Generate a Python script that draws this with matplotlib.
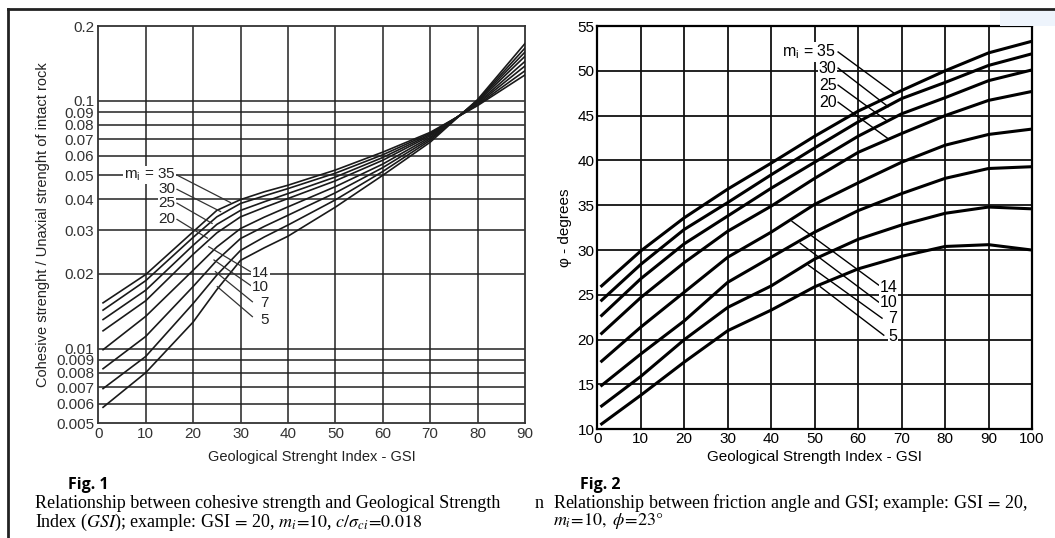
import matplotlib.pyplot as plt
from matplotlib.lines import Line2D
from matplotlib.patches import Rectangle

plt.rcParams['font.family'] = ['Liberation Sans', 'DejaVu Sans']
plt.rcParams['mathtext.fontset'] = 'stix'

# ---- Fig. 1 : cohesive strength / UCS vs GSI (log scale) ----
gsi_c = [1, 10, 20, 25, 30, 35, 40, 50, 60, 70, 80, 90]
coh_35 = [.0153, .0199, .0296, .0361, .0399, .0429, .0456, .0525, .0620, .0745, .0955, .127]
coh_30 = [.0143, .0188, .0281, .0340, .0385, .0413, .0442, .0510, .0605, .0738, .0962, .132]
coh_25 = [.0131, .0172, .0261, .0317, .0361, .0391, .0422, .0492, .0590, .0730, .0970, .138]
coh_20 = [.0118, .0156, .0240, .0293, .0340, .0371, .0403, .0475, .0575, .0722, .0978, .144]
coh_14 = [.0099, .0135, .0207, .0257, .0305, .0339, .0373, .0450, .0555, .0712, .0988, .151]
coh_10 = [.0083, .0112, .0178, .0227, .0278, .0311, .0345, .0425, .0537, .0702, .0996, .157]
coh_7 = [.0069, .0093, .0152, .0198, .0249, .0282, .0315, .0398, .0518, .0692, .1003, .163]
coh_5 = [.0058, .0080, .0128, .0173, .0227, .0255, .0284, .0372, .0500, .0680, .1010, .170]
coh_curves = [coh_35, coh_30, coh_25, coh_20, coh_14, coh_10, coh_7, coh_5]

coh_yticks = [0.2, 0.1, 0.09, 0.08, 0.07, 0.06, 0.05, 0.04, 0.03, 0.02,
              0.01, 0.009, 0.008, 0.007, 0.006, 0.005]
coh_ylabels = ['0.2', '0.1', '0.09', '0.08', '0.07', '0.06', '0.05', '0.04', '0.03',
               '0.02', '0.01', '0.009', '0.008', '0.007', '0.006', '0.005']

# curve labels: text, text position, leader line (x0, y0, x1, y1)
coh_lab_top = ['m$_\\mathregular{i}$ = 35', '30', '25', '20']
coh_lab_top_y = [0.0501, 0.0439, 0.0386, 0.0332]
coh_lead_top = [(16.6, 0.0501, 27.9, 0.0388), (16.6, 0.0439, 25.8, 0.0357),
                (16.6, 0.0386, 24.0, 0.0320), (16.6, 0.0332, 23.0, 0.0279)]
coh_lab_bot = ['14', '10', '7', '5']
coh_lab_bot_y = [0.0201, 0.01768, 0.01532, 0.01305]
coh_lead_bot = [(23.3, 0.02576, 32.1, 0.02044), (24.4, 0.02278, 32.5, 0.01778),
                (24.7, 0.02044, 32.5, 0.01546), (25.1, 0.01778, 32.5, 0.01346)]

# ---- Fig. 2 : friction angle vs GSI ----
gsi_f = [1, 10, 20, 30, 40, 50, 60, 70, 80, 90, 100]
phi_35 = [26.0, 29.9, 33.6, 36.8, 39.7, 42.7, 45.5, 47.8, 50.0, 52.0, 53.3]
phi_30 = [24.4, 28.4, 32.3, 35.3, 38.4, 41.4, 44.3, 46.9, 48.7, 50.6, 51.9]
phi_25 = [22.7, 26.8, 30.7, 33.8, 36.9, 39.8, 42.7, 45.2, 47.0, 48.9, 50.1]
phi_20 = [20.7, 24.7, 28.6, 32.1, 34.9, 38.0, 40.9, 43.0, 45.0, 46.7, 47.7]
phi_14 = [17.6, 21.4, 25.3, 29.2, 32.0, 35.1, 37.5, 39.8, 41.7, 42.9, 43.5]
phi_10 = [14.9, 18.4, 22.1, 26.4, 29.2, 32.0, 34.4, 36.3, 38.0, 39.1, 39.3]
phi_7 = [12.6, 15.9, 20.0, 23.6, 26.0, 29.0, 31.2, 32.8, 34.1, 34.8, 34.6]
phi_5 = [10.6, 13.8, 17.5, 21.0, 23.3, 25.9, 27.9, 29.3, 30.4, 30.6, 30.0]
phi_curves = [phi_35, phi_30, phi_25, phi_20, phi_14, phi_10, phi_7, phi_5]

phi_lab_top = ['m$_\\mathregular{i}$ = 35', '30', '25', '20']
phi_lab_top_y = [52.1, 50.3, 48.4, 46.5]
phi_lead_top = [(55.4, 52.1, 68.3, 47.5), (55.4, 50.3, 66.9, 46.0),
                (55.4, 48.4, 66.7, 44.4), (55.4, 46.5, 66.7, 42.5)]
phi_lab_bot = ['14', '10', '7', '5']
phi_lab_bot_y = [25.8, 24.1, 22.4, 20.4]
phi_lead_bot = [(44.8, 33.2, 64.7, 26.1), (46.7, 30.75, 64.7, 24.2),
                (48.6, 28.3, 65.5, 22.4), (51.3, 25.9, 65.9, 20.5)]

W, H = 1055, 538
fig = plt.figure(figsize=(W / 100, H / 100), dpi=100)
box = dict(facecolor='white', edgecolor='none', pad=0.5)
serif = ['Liberation Serif', 'DejaVu Serif']

# ---------------- left chart ----------------
ax1 = fig.add_axes([98.3 / W, 1 - 423.3 / H, 426.7 / W, 397.3 / H])
ax1.set_yscale('log')
ax1.set_xlim(0, 90)
ax1.set_ylim(0.005, 0.2)
ax1.set_xticks(range(0, 91, 10))
ax1.set_yticks(coh_yticks)
ax1.set_yticklabels(coh_ylabels)
ax1.minorticks_off()
ax1.tick_params(length=0, labelsize=11, colors='#333333', pad=3)
for v in range(10, 90, 10):
    ax1.axvline(v, color='#222222', lw=1.1, zorder=1)
for v in coh_yticks[1:-1]:
    ax1.axhline(v, color='#222222', lw=1.1, zorder=1)
for c in coh_curves:
    ax1.plot(gsi_c, c, color='#1a1a1a', lw=1.2, zorder=3)
for s in ax1.spines.values():
    s.set_linewidth(1.3)
    s.set_color('#333333')

for t, y in zip(coh_lab_top, coh_lab_top_y):
    ax1.text(16.3, y, t, ha='right', va='center', fontsize=11, color='#222222',
             bbox=box, zorder=5)
for x0, y0, x1, y1 in coh_lead_top:
    ax1.plot([x0, x1], [y0, y1], color='#333333', lw=0.9, zorder=4)
for t, y in zip(coh_lab_bot, coh_lab_bot_y):
    ax1.text(36.0, y, t, ha='right', va='center', fontsize=11, color='#222222',
             bbox=box, zorder=5)
for x0, y0, x1, y1 in coh_lead_bot:
    ax1.plot([x0, x1], [y0, y1], color='#333333', lw=0.9, zorder=4)

ax1.set_xlabel('Geological Strenght Index - GSI', fontsize=10.5, color='#222222', labelpad=6)
ax1.set_ylabel('Cohesive strenght / Unaxial strenght of intact rock', fontsize=10.5,
               color='#222222', labelpad=4)

# ---------------- right chart ----------------
ax2 = fig.add_axes([597.3 / W, 1 - 429.3 / H, 434.7 / W, 403.3 / H])
ax2.set_xlim(0, 100)
ax2.set_ylim(10, 55)
ax2.set_xticks(range(0, 101, 10))
ax2.set_yticks(range(10, 56, 5))
ax2.tick_params(length=0, labelsize=11, colors='black', pad=2)
ax2.grid(True, color='#111111', lw=1.3, zorder=1)
ax2.set_axisbelow(True)
for c in phi_curves:
    ax2.plot(gsi_f, c, color='black', lw=2.2, zorder=3)
for s in ax2.spines.values():
    s.set_linewidth(1.6)

for t, y in zip(phi_lab_top, phi_lab_top_y):
    ax2.text(55.0, y, t, ha='right', va='center', fontsize=11.5, bbox=box, zorder=5)
for x0, y0, x1, y1 in phi_lead_top:
    ax2.plot([x0, x1], [y0, y1], color='black', lw=1.0, zorder=4)
for t, y in zip(phi_lab_bot, phi_lab_bot_y):
    ax2.text(69.0, y, t, ha='right', va='center', fontsize=11.5, bbox=box, zorder=5)
for x0, y0, x1, y1 in phi_lead_bot:
    ax2.plot([x0, x1], [y0, y1], color='black', lw=1.0, zorder=4)

ax2.set_xlabel('Geological Strength Index - GSI', fontsize=11, labelpad=3)
ax2.set_ylabel('φ - degrees', fontsize=11, labelpad=4)

# ---------------- page frame & captions ----------------
fig.add_artist(Line2D([8 / W, 1], [1 - 9 / H, 1 - 9 / H], color='#222222', lw=2))
fig.add_artist(Line2D([8 / W, 8 / W], [0, 1 - 9 / H], color='#222222', lw=2))
fig.add_artist(Rectangle((1000 / W, 1 - 26 / H), 55 / W, 15 / H, color='#eef4fc', lw=0))

fig.text(68 / W, 1 - 485 / H, 'Fig. 1', fontsize=11.5, fontweight='bold',
         family=['Open Sans', 'DejaVu Sans'], va='center')
fig.text(35 / W, 1 - 504 / H,
         'Relationship between cohesive strength and Geological Strength',
         fontsize=13, family=serif, va='center')
fig.text(35 / W, 1 - 522 / H,
         'Index ($GSI$); example: GSI$\\,=\\,$20, $m_i\\!=\\!10$, $c/\\sigma_{ci}\\!=\\!0.018$',
         fontsize=13, family=serif, va='center')
fig.text(535 / W, 1 - 503 / H, 'n', fontsize=13, family=serif, va='center')
fig.text(580 / W, 1 - 485 / H, 'Fig. 2', fontsize=11.5, fontweight='bold',
         family=['Open Sans', 'DejaVu Sans'], va='center')
fig.text(553 / W, 1 - 503 / H,
         'Relationship between friction angle and GSI; example: GSI$\\,=\\,$20,',
         fontsize=13, family=serif, va='center')
fig.text(553 / W, 1 - 521 / H, '$m_i\\!=\\!10,\\ \\phi\\!=\\!23°$',
         fontsize=13, family=serif, va='center')

fig.savefig('out.png', dpi=100)
